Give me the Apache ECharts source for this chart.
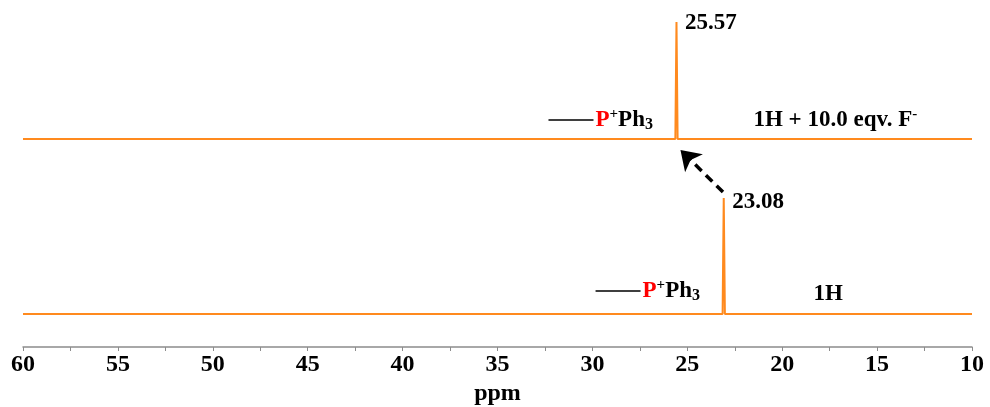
<!DOCTYPE html>
<html>
<head>
<meta charset="utf-8">
<script src="https://cdn.jsdelivr.net/npm/echarts@6/dist/echarts.min.js"></script>
<style>html,body{margin:0;padding:0;background:#fff;}#c{width:990px;height:407px;}</style>
</head>
<body>
<div id="c"></div>
<script>
// ---- data ----
const tickLabels = [60, 55, 50, 45, 40, 35, 30, 25, 20, 15, 10];
// lower spectrum: 1H
const lowerPpm = [60, 23.14, 23.08, 23.02, 10];
const lowerIntensity = [0, 0, 116, 0, 0];
const lowerPeak = 23.08;
// upper spectrum: 1H + 10.0 eqv. F-
const upperPpm = [60, 25.63, 25.57, 25.51, 10];
const upperIntensity = [0, 0, 117, 0, 0];
const upperPeak = 25.57;
const upperOffset = 175;
const lowerName = '1H';
const upperName = '1H + 10.0 eqv. F';

const FONT = "'Liberation Serif', 'Times New Roman', serif";
const ORANGE = '#ff8a1e';

const lowerData = lowerPpm.map((x, i) => [x, lowerIntensity[i]]);
const upperData = upperPpm.map((x, i) => [x, upperIntensity[i] + upperOffset]);

const richStyles = {
  bond: { width: 45, height: 0, borderWidth: 1.5, borderColor: '#000' },
  p: { color: '#ff0000', fontSize: 23, fontWeight: 'bold', fontFamily: FONT, lineHeight: 26, padding: [0, 0, 0, 2] },
  t: { color: '#000', fontSize: 23, fontWeight: 'bold', fontFamily: FONT, lineHeight: 26 },
  sup: { color: '#000', fontSize: 15, fontWeight: 'bold', fontFamily: FONT, lineHeight: 15, verticalAlign: 'top' },
  sub: { color: '#000', fontSize: 16, fontWeight: 'bold', fontFamily: FONT, lineHeight: 16, verticalAlign: 'bottom' }
};
const structText = '{bond|}{p|P}{sup|+}{t|Ph}{sub|3}';

function textPoint(coord, text) {
  return {
    coord: coord,
    symbol: 'circle', symbolSize: 1,
    itemStyle: { color: 'rgba(0,0,0,0)' },
    label: { show: true, position: 'right', distance: 0, formatter: text, rich: richStyles }
  };
}
function peakPoint(coord, val, dy) {
  return {
    coord: coord,
    symbol: 'circle', symbolSize: 1,
    itemStyle: { color: 'rgba(0,0,0,0)' },
    label: { show: true, position: 'right', distance: 8, offset: [0, dy], formatter: val.toFixed(2),
      color: '#000', fontSize: 23, fontWeight: 'bold', fontFamily: FONT }
  };
}

const chart = echarts.init(document.getElementById('c'), null, { renderer: 'canvas' });
chart.setOption({
  animation: false,
  backgroundColor: '#fff',
  grid: { left: 23, right: 18, top: 0, bottom: 60, containLabel: false, outerBoundsMode: 'none' },
  xAxis: {
    type: 'value', min: 10, max: 60, interval: 2.5, inverse: true,
    name: 'ppm', nameLocation: 'middle', nameGap: 31,
    nameTextStyle: { color: '#000', fontSize: 24, fontWeight: 'bold', fontFamily: FONT },
    axisLine: { onZero: false, lineStyle: { color: '#8c8c8c', width: 1.5 } },
    axisTick: { inside: false, length: 4, lineStyle: { color: '#8c8c8c', width: 1 } },
    axisLabel: {
      margin: 6, color: '#000', fontSize: 24, fontWeight: 'bold', fontFamily: FONT,
      formatter: v => (tickLabels.indexOf(v) >= 0 ? String(v) : '')
    },
    splitLine: { show: false }
  },
  yAxis: { type: 'value', min: -33, max: 314, show: false },
  series: [
    {
      type: 'line', data: lowerData, showSymbol: false, symbol: 'none',
      lineStyle: { color: ORANGE, width: 2 }, silent: true,
      markPoint: {
        silent: true, animation: false,
        data: [
          peakPoint([lowerPeak, 116], lowerPeak, 4),
          textPoint([29.86, 23], structText),
          textPoint([18.38, 20], '{t|' + lowerName + '}')
        ]
      },
      markLine: {
        silent: true, animation: false,
        symbol: ['none', 'arrow'], symbolSize: 19,
        label: { show: false },
        lineStyle: { color: '#000', type: [9, 6], width: 3.5 },
        data: [[{ coord: [23.12, 122] }, { coord: [25.36, 164] }]]
      }
    },
    {
      type: 'line', data: upperData, showSymbol: false, symbol: 'none',
      lineStyle: { color: ORANGE, width: 2 }, silent: true,
      markPoint: {
        silent: true, animation: false,
        data: [
          peakPoint([upperPeak, 117 + upperOffset], upperPeak, 1),
          textPoint([32.34, 194], structText),
          textPoint([21.54, 194], '{t|' + upperName + '}{sup|-}')
        ]
      }
    }
  ]
});
</script>
</body>
</html>
